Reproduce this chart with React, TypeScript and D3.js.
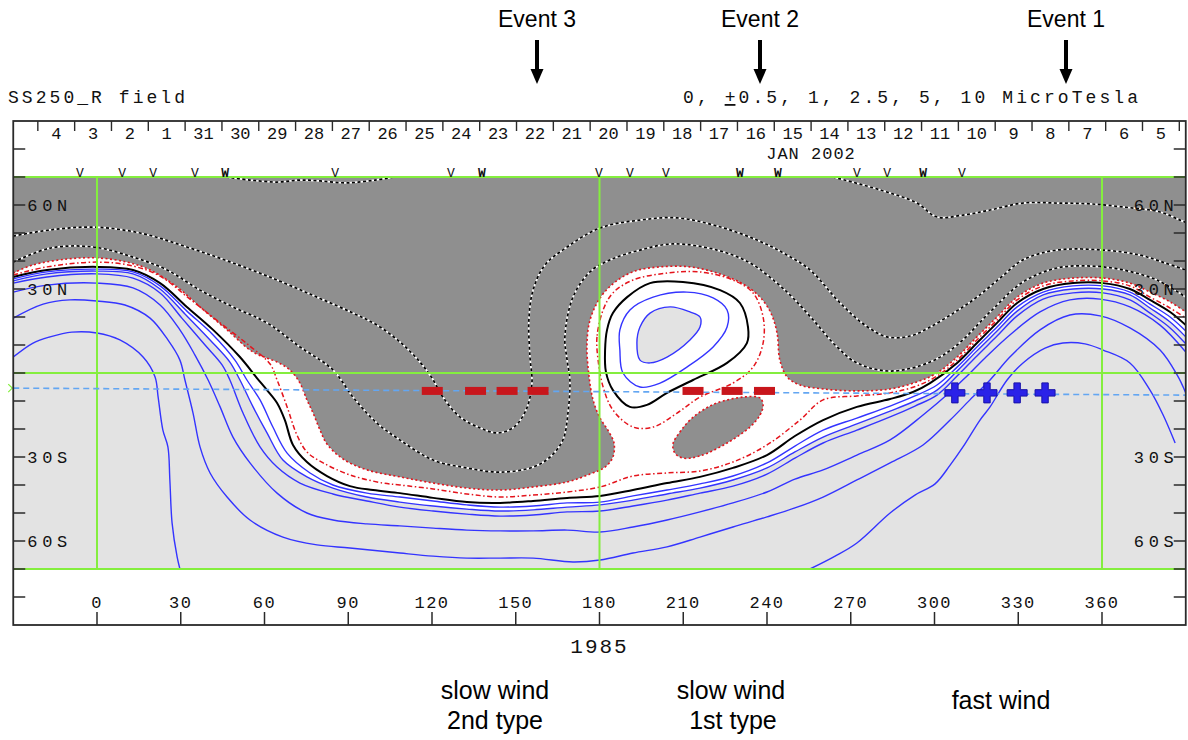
import React from "react";
import * as d3 from "d3";

type P = [number, number];

// ---------- data (Carrington lon, heliographic lat) ----------
const lonTicks = [0, 30, 60, 90, 120, 150, 180, 210, 240, 270, 300, 330, 360];
const latTicks = [-80, -70, -60, -50, -40, -30, -20, -10, 0, 10, 20, 30, 40, 50, 60, 70, 80];
const latLabelValues = [60, 30, -30, -60];
const latLabelText = ["60N", "30N", "30S", "60S"];
const gridLons = [0, 180, 360];
const gridLats = [70, 0, -70];

// dates: label at noon of Jan 5 2002 sits at lon 381.1, Feb 4 at lon -14.6
const dateStart = new Date(Date.UTC(2002, 0, 5, 12));
const dateEnd = new Date(Date.UTC(2002, 1, 4, 12));
const dateLonRange = [381.1, -14.6];

const markerLons = [-6.1, 9.0, 20.1, 35.1, 45.9, 85.3, 126.8, 137.9, 179.8, 190.9, 203.8, 230.3, 243.9, 272.2, 283.0, 295.9, 309.8];
const markerTypes = ["V", "V", "V", "V", "W", "V", "V", "W", "V", "V", "V", "W", "W", "V", "V", "W", "V"];

const earthLon = [-30, 390];
const earthLat = [-5.4, -7.9];

const slow2Lons = [120.1, 135.6, 146.9, 158.0];
const slow1Lons = [213.5, 227.5, 239.1];
const slowLat = -6.4;
const fastLons = [307.3, 318.8, 329.6, 339.6];
const fastLat = -7.1;

// negative contours (dotted black/white)
const D0: P[] = [[46.2, 70], [54.8, 68.9], [64.5, 68.2], [72.7, 68.9], [79.9, 68.6], [89.6, 67.9], [99.6, 68.9], [106.7, 70]];
const DT: P[] = [[263.6, 70], [280.5, 65.4], [293.7, 60.7], [300.9, 55.7], [310.2, 56.4], [319.9, 58.2], [331.7, 60.7], [343.9, 60.7], [355.7, 60.4], [367.5, 59.3], [380.8, 57.5], [388, 54.6], [392, 52.9]];
const D1: P[] = [[-30, 48.9], [-16.8, 51.1], [-1.4, 52.1], [15.4, 50.0], [32.2, 45.0], [48.7, 39.3], [64.5, 33.2], [78.8, 27.1], [91.7, 21.4], [100.3, 17.1], [108.5, 11.1], [115.7, 3.9], [120.0, -1.8], [123.9, -8.6], [130.0, -15.7], [137.2, -19.6], [143.3, -21.4], [149.0, -19.6], [153.7, -13.2], [155.8, -3.6], [155.1, 5.7], [154.7, 18.9], [156.2, 29.6], [160.5, 38.6], [168.4, 45.0], [180.2, 51.8], [194.5, 54.6], [207.8, 55.4], [222.1, 52.5], [236.4, 47.5], [246.5, 42.5], [255.4, 36.8], [266.2, 25.0], [275.1, 17.1], [283.0, 12.9], [291.2, 13.2], [298.4, 16.4], [307.4, 21.8], [315.2, 27.1], [323.5, 33.9], [331.7, 40.4], [343.9, 43.9], [360.4, 43.9], [373.6, 42.1], [382.6, 39.3], [390, 36.8]];
const D2: P[] = [[-30, 39.6], [-16.8, 44.6], [-1.4, 45.0], [12.9, 41.4], [25.1, 36.8], [36.9, 29.6], [48.7, 23.6], [60.9, 17.9], [72.7, 9.3], [84.5, 1.1], [91.7, -8.6], [100.3, -17.9], [108.5, -23.9], [120.4, -31.1], [132.5, -33.9], [144.4, -35.4], [156.2, -33.6], [162.3, -30.0], [166.9, -23.9], [168.7, -14.3], [169.4, -2.5], [168.4, 4.6], [167.6, 12.9], [170.5, 27.1], [176.6, 36.1], [183.8, 40.4], [194.5, 43.9], [206.3, 46.1], [222.1, 43.9], [233.9, 39.3], [243.6, 32.1], [250.0, 26.1], [257.2, 18.2], [264.4, 10.0], [272.2, 3.6], [284.1, 0.7], [298.4, 3.9], [308.1, 10.0], [319.9, 21.8], [331.7, 32.5], [343.9, 37.5], [355.7, 38.2], [367.5, 36.8], [379.7, 33.2], [390, 27.1]];

// -1 contour (outer red dotted, edge of the dark shading)
const R1: P[] = [[-30, 35.7], [-22.9, 38.6], [-10.7, 40.7], [0, 41.1], [10.7, 39.6], [19.0, 36.8], [28.7, 30.7], [36.9, 23.6], [46.6, 15.4], [55.9, 7.5], [64.5, 3.9], [69.1, 1.1], [72.7, -3.6], [75.2, -9.6], [77.4, -14.3], [79.9, -20.4], [82.4, -25.4], [88.1, -30.7], [96.7, -34.6], [108.5, -37.1], [120.4, -39.3], [132.5, -41.1], [144.4, -41.8], [156.2, -40.7], [168.4, -38.9], [176.6, -36.1], [182.0, -33.6], [184.8, -30.0], [185.2, -25.0], [183.0, -20.4], [180.2, -16.1], [177.7, -9.6], [176.2, -0.7], [175.5, 10.0], [176.6, 18.9], [180.2, 26.8], [185.6, 32.5], [192.7, 36.4], [201.7, 37.9], [212.4, 37.9], [222.1, 35.7], [231.4, 31.8], [237.5, 27.1], [241.4, 21.4], [243.6, 14.3], [244.6, 4.6], [247.2, -1.4], [251.8, -4.3], [260.1, -5.7], [272.2, -6.4], [284.1, -5.7], [293.7, -3.2], [300.9, 0], [308.1, 5.7], [315.2, 12.9], [322.4, 20.0], [329.6, 27.1], [338.9, 32.1], [349.6, 33.9], [360.4, 33.9], [370.0, 32.1], [377.2, 28.9], [384.4, 25.4], [390, 21.8]];
const HOLE: P[] = [[206.3, -25.4], [208.8, -21.1], [212.4, -16.8], [217.1, -13.2], [222.1, -10.7], [231.4, -8.6], [237.5, -8.9], [238.6, -11.4], [237.5, -15.0], [233.9, -19.3], [225.7, -25.0], [216.0, -29.6], [209.9, -30.4], [207.0, -28.6]];

// -0.5 contour (red dash-dot)
const R2: P[] = [[-30, 35.0], [-17.9, 37.9], [0, 39.6], [12.9, 38.2], [22.6, 34.6], [33.3, 26.4], [44.1, 17.9], [54.8, 9.6], [62.0, 3.2], [64.5, -2.5], [68.1, -12.1], [71.6, -22.1], [75.2, -28.2], [81.0, -32.1], [90.6, -36.4], [102.4, -39.3], [108.5, -40.0], [120.4, -41.4], [132.5, -43.2], [144.4, -44.3], [156.2, -43.6], [168.4, -42.5], [180.2, -40.7], [192.0, -36.8], [204.2, -35.7], [216.0, -35.0], [227.8, -31.8], [240.0, -25.7], [251.8, -16.8], [260.1, -9.6], [272.2, -8.2], [284.1, -7.1], [293.7, -4.6], [300.9, -1.1], [308.1, 4.6], [315.2, 11.8], [322.4, 18.9], [329.6, 26.1], [338.9, 31.1], [349.6, 32.9], [360.4, 32.9], [370.0, 31.1], [377.2, 27.1], [384.4, 23.2], [390, 19.6]];
const R2blob: P[] = [[181.3, 22.5], [179.1, 12.9], [179.5, 4.6], [181.3, -5.0], [184.8, -13.2], [192.0, -19.3], [199.2, -19.3], [207.8, -14.3], [216.0, -8.6], [227.8, -3.6], [235.0, 2.1], [238.6, 10.7], [238.6, 20.0], [235.0, 28.6], [227.8, 33.2], [216.0, 36.1], [204.2, 35.7], [192.0, 33.2], [184.8, 28.6]];

// 0 contour (neutral line, black)
const K: P[] = [[-30, 34.3], [-17.9, 36.8], [0, 37.9], [12.9, 36.8], [22.6, 32.1], [32.2, 23.6], [41.6, 15.4], [51.2, 5.7], [57.3, -1.8], [60.9, -6.1], [64.5, -10.7], [67.3, -16.8], [70.2, -25.7], [75.2, -31.8], [82.4, -36.8], [90.6, -40.4], [98.9, -41.8], [108.5, -42.9], [120.4, -44.6], [132.5, -46.1], [144.4, -46.4], [156.2, -45.7], [168.4, -44.6], [180.2, -43.9], [192.0, -41.8], [204.2, -39.3], [216.0, -37.1], [227.8, -33.9], [240.0, -29.3], [250.0, -22.5], [260.1, -16.8], [272.2, -12.1], [284.1, -9.3], [292.3, -6.8], [298.4, -3.6], [308.1, 3.6], [315.2, 10.7], [322.4, 17.9], [329.6, 25.0], [338.9, 30.0], [349.6, 32.1], [360.4, 32.1], [370.0, 30.0], [377.2, 26.1], [384.4, 21.8], [390, 17.1]];
const Kblob: P[] = [[182.7, 15.4], [182.0, 8.2], [182.3, 0.4], [184.8, -6.1], [190.9, -12.1], [197.0, -11.4], [204.2, -7.1], [213.5, -2.5], [225.7, 3.6], [232.8, 10.7], [233.2, 16.4], [230.3, 25.0], [223.2, 29.6], [209.9, 32.5], [198.1, 32.1], [189.9, 27.1], [184.8, 21.4]];

// positive contours (blue)
const B1: P[] = [[-30, 33.6], [-17.9, 36.1], [0, 37.1], [12.9, 36.1], [22.6, 31.1], [32.2, 22.1], [41.6, 13.6], [49.4, 4.6], [53.7, -2.5], [58.4, -9.6], [63.0, -19.3], [68.1, -28.6], [76.3, -35.7], [84.5, -40.0], [96.7, -42.9], [108.5, -44.3], [120.4, -45.7], [132.5, -47.1], [144.4, -47.9], [156.2, -47.5], [168.4, -46.4], [180.2, -46.1], [192.0, -43.9], [204.2, -41.8], [216.0, -39.6], [227.8, -36.8], [240.0, -32.1], [250.0, -26.1], [260.1, -20.4], [272.2, -16.1], [284.1, -11.8], [293.0, -8.2], [300.9, -4.3], [308.1, 2.1], [315.2, 9.3], [322.4, 16.4], [329.6, 23.6], [338.9, 28.9], [349.6, 31.1], [360.4, 31.1], [370.0, 28.9], [377.2, 24.6], [384.4, 20.0], [390, 15.0]];
const B2: P[] = [[-30, 32.9], [-17.9, 35.4], [0, 36.4], [12.9, 35.4], [22.6, 30.0], [31.5, 21.1], [40.5, 11.8], [47.6, 3.9], [51.2, -2.5], [55.9, -12.1], [60.9, -21.4], [66.6, -31.1], [75.2, -37.1], [84.5, -41.1], [96.7, -44.3], [108.5, -46.1], [120.4, -47.5], [132.5, -48.6], [144.4, -49.3], [156.2, -48.9], [168.4, -47.9], [180.2, -47.1], [192.0, -45.4], [204.2, -43.2], [216.0, -41.1], [227.8, -38.2], [240.0, -33.9], [250.0, -28.2], [260.1, -22.9], [272.2, -18.2], [284.1, -13.6], [293.0, -10.0], [300.9, -6.1], [308.1, 0.7], [315.2, 7.9], [322.4, 15.0], [329.6, 22.1], [338.9, 27.9], [349.6, 30.0], [360.4, 30.0], [370.0, 27.9], [377.2, 23.2], [384.4, 18.2], [390, 12.9]];
const B3: P[] = [[-30, 32.1], [-17.9, 34.3], [0, 35.4], [12.9, 33.9], [22.6, 28.6], [30.4, 19.6], [38.7, 10.0], [44.8, 2.9], [47.6, -2.5], [52.3, -14.3], [58.4, -26.4], [64.5, -33.6], [72.7, -39.3], [84.5, -43.2], [96.7, -45.7], [108.5, -47.9], [120.4, -49.3], [132.5, -50.4], [144.4, -51.1], [156.2, -50.7], [168.4, -49.6], [180.2, -49.3], [192.0, -47.5], [204.2, -45.4], [216.0, -42.9], [227.8, -40.4], [240.0, -36.1], [250.0, -30.4], [260.1, -25.0], [272.2, -20.4], [284.1, -15.7], [293.0, -11.8], [300.9, -7.9], [308.1, -1.1], [315.2, 6.1], [322.4, 13.2], [329.6, 20.4], [338.9, 26.4], [349.6, 28.6], [360.4, 28.6], [370.0, 26.1], [377.2, 21.4], [384.4, 16.1], [390, 10.4]];
const B4: P[] = [[-30, 28.9], [-17.9, 31.4], [0, 32.1], [12.9, 30.4], [22.6, 24.3], [29.7, 15.4], [35.1, 6.4], [39.8, -2.5], [44.1, -12.1], [48.7, -22.9], [54.8, -32.1], [64.5, -42.9], [75.2, -50.0], [84.5, -52.5], [96.7, -53.9], [108.5, -54.6], [120.4, -55.4], [132.5, -56.1], [144.4, -56.4], [156.2, -56.4], [168.4, -56.1], [180.2, -56.8], [192.0, -55.0], [204.2, -52.5], [216.0, -49.6], [227.8, -46.4], [240.0, -42.5], [250.0, -37.9], [260.1, -34.6], [272.2, -29.3], [284.1, -23.9], [295.9, -15.0], [305.6, -6.8], [310.9, -1.8], [318.1, 5.4], [327.0, 13.6], [337.8, 21.8], [348.5, 26.1], [359.3, 26.4], [370.0, 23.6], [380.8, 17.1], [390, 7.5]];
const B5: P[] = [[-30, 19.6], [-19.3, 24.6], [-9.7, 26.1], [0, 25.7], [10.0, 24.3], [19.0, 19.6], [25.4, 11.8], [29.7, 4.6], [31.5, -2.5], [34.4, -14.3], [36.9, -26.4], [40.5, -35.7], [46.6, -44.3], [54.8, -52.5], [66.6, -58.6], [78.8, -61.4], [90.6, -62.5], [108.5, -64.3], [120.4, -65.4], [132.5, -66.1], [144.4, -66.1], [156.2, -66.1], [170.5, -67.5], [180.2, -66.8], [192.0, -64.3], [204.2, -62.1], [216.0, -58.6], [227.8, -55.0], [240.0, -51.4], [250.0, -48.2], [260.1, -44.3], [272.2, -38.2], [284.1, -32.1], [295.9, -25.7], [305.6, -16.8], [312.7, -9.6], [319.9, -2.5], [327.0, 5.7], [337.8, 15.4], [348.5, 20.7], [359.3, 20.4], [370.0, 16.1], [380.8, 8.2], [386.9, -0.7], [390, -7.1]];
const B6west: P[] = [[-30, 5.7], [-22.9, 10.7], [-16.8, 12.9], [-9.0, 14.6], [0, 14.3], [8.2, 11.8], [16.5, 5.7], [20.8, -1.4], [21.9, -8.6], [23.6, -20.4], [25.4, -26.4], [26.1, -38.2], [26.9, -53.6], [28.7, -65.7], [29.7, -70]];
const B6east: P[] = [[255.4, -70], [264.4, -65.4], [272.2, -60.7], [284.1, -50.0], [293.0, -43.6], [300.2, -39.6], [305.6, -32.9], [310.2, -26.4], [316.3, -16.8], [319.9, -12.1], [326.0, -2.5], [331.7, 3.6], [339.6, 8.9], [346.0, 10.7], [353.9, 10.4], [360.4, 8.2], [370.0, 3.6], [377.2, -6.1], [381.9, -15.0], [386.2, -25.0]];
const B1blob: P[] = [[187.3, 8.2], [188.4, 0], [194.5, -5.0], [201.7, -3.6], [211.3, 2.1], [220.7, 9.3], [225.7, 16.4], [225.7, 22.5], [220.7, 26.8], [211.3, 28.9], [199.2, 27.1], [190.9, 22.5], [187.3, 15.4]];
const B2blob: P[] = [[193.4, 10.7], [194.5, 4.6], [198.1, 3.6], [204.2, 5.7], [212.4, 11.8], [216.0, 16.4], [216.0, 20.0], [212.4, 21.8], [205.3, 23.6], [198.1, 21.4], [194.5, 16.4]];

// ---------- scales ----------
const x = d3.scaleLinear().domain([0, 360]).range([97, 1102]);
const y = d3.scaleLinear().domain([70, -70]).range([177, 569]);
const dateToLon = d3.scaleUtc().domain([dateStart, dateEnd]).range(dateLonRange);

const open = d3.line<P>().x((d) => x(d[0])).y((d) => y(d[1])).curve(d3.curveCatmullRom.alpha(0.5));
const closed = d3.line<P>().x((d) => x(d[0])).y((d) => y(d[1])).curve(d3.curveCatmullRomClosed.alpha(0.5));

const LON0 = -30, LON1 = 390;

const GRAY = "#8f8f8f";
const LIGHT = "#e3e3e3";
const BLUE = "#3434ff";
const RED = "#e4141c";
const GREEN = "#84ee3e";
const MONO = "'Liberation Mono', 'DejaVu Sans Mono', monospace";
const SANS = "'Liberation Sans', Arial, sans-serif";

function fillBelow(pts: P[]) {
  return `${open(pts)}L${x(LON1)},${y(-70)}L${x(LON0)},${y(-70)}Z`;
}

function Dotted({ d }: { d: string }) {
  return (
    <g fill="none">
      <path d={d} stroke="#ffffff" strokeWidth={1.7} />
      <path d={d} stroke="#000000" strokeWidth={1.7} strokeDasharray="3 2.5" />
    </g>
  );
}

export default function App() {
  const left = x(LON0);
  const right = x(LON1);
  const top = y(90);
  const bottom = y(-90);

  const dayNoons = d3.utcHour.range(dateStart, d3.utcHour.offset(dateEnd, 1), 24);
  const dayBounds = d3.utcDay.range(d3.utcDay.floor(dateStart), d3.utcDay.offset(d3.utcDay.floor(dateEnd), 2));
  const fmtDay = d3.utcFormat("%-d");

  const blue = [B1, B2, B3, B4, B5];

  const events = [
    { label: "Event 3", x: 537 },
    { label: "Event 2", x: 760 },
    { label: "Event 1", x: 1066 },
  ];

  const ex0 = x(earthLon[0]), ex1 = x(earthLon[1]);
  const ey0 = y(earthLat[0]), ey1 = y(earthLat[1]);

  return (
    <svg width={1188} height={740} viewBox="0 0 1188 740" style={{ position: "absolute", left: 0, top: 0, background: "#fff" }}>
      <defs>
        <clipPath id="mapClip">
          <rect x={left} y={y(70)} width={right - left} height={y(-70) - y(70)} />
        </clipPath>
      </defs>
      <rect x={0} y={0} width={1188} height={740} fill="#fff" />

      {/* Event labels and arrows */}
      {events.map((e) => (
        <g key={e.label}>
          <text x={e.x} y={27} textAnchor="middle" fontFamily={SANS} fontSize={23} fill="#000">{e.label}</text>
          <rect x={e.x - 2} y={40} width={4} height={31} fill="#000" />
          <path d={`M${e.x - 6.5},69L${e.x + 6.5},69L${e.x},84Z`} fill="#000" />
        </g>
      ))}

      {/* titles */}
      <text x={8} y={103} fontFamily={MONO} fontSize={18} textLength={177} lengthAdjust="spacing" fill="#111">SS250_R field</text>
      <text x={683} y={103} fontFamily={MONO} fontSize={18} textLength={455} lengthAdjust="spacing" fill="#111">
        0, <tspan style={{ textDecoration: "underline" }}>+</tspan>0.5, 1, 2.5, 5, 10 MicroTesla
      </text>

      {/* map */}
      <g clipPath="url(#mapClip)">
        <rect x={left} y={y(70)} width={right - left} height={y(-70) - y(70)} fill={GRAY} />
        <path d={fillBelow(R1)} fill="#ffffff" />
        <path d={closed(HOLE) || ""} fill={GRAY} />
        <path d={fillBelow(B2)} fill={LIGHT} />
        <path d={closed(B2blob) || ""} fill={LIGHT} />

        {/* negative contours */}
        <Dotted d={open(D0) || ""} />
        <Dotted d={open(DT) || ""} />
        <Dotted d={open(D1) || ""} />
        <Dotted d={open(D2) || ""} />

        {/* -1 contours */}
        <path d={open(R1) || ""} fill="none" stroke={RED} strokeWidth={1.6} strokeDasharray="2 2.5" />
        <path d={closed(HOLE) || ""} fill="none" stroke={RED} strokeWidth={1.6} strokeDasharray="2 2.5" />
        {/* -0.5 contours */}
        <path d={open(R2) || ""} fill="none" stroke={RED} strokeWidth={1.5} strokeDasharray="5 2.5 1.5 2.5" />
        <path d={closed(R2blob) || ""} fill="none" stroke={RED} strokeWidth={1.5} strokeDasharray="5 2.5 1.5 2.5" />
        {/* neutral line */}
        <path d={open(K) || ""} fill="none" stroke="#000" strokeWidth={2} />
        <path d={closed(Kblob) || ""} fill="none" stroke="#000" strokeWidth={2} />
        {/* positive */}
        {blue.map((b, i) => (
          <path key={i} d={open(b) || ""} fill="none" stroke={BLUE} strokeWidth={1.4} />
        ))}
        <path d={open(B6west) || ""} fill="none" stroke={BLUE} strokeWidth={1.4} />
        <path d={open(B6east) || ""} fill="none" stroke={BLUE} strokeWidth={1.4} />
        <path d={closed(B1blob) || ""} fill="none" stroke={BLUE} strokeWidth={1.4} />
        <path d={closed(B2blob) || ""} fill="none" stroke={BLUE} strokeWidth={1.4} />

        {/* grid */}
        {gridLons.map((g) => (
          <line key={"gx" + g} x1={x(g)} x2={x(g)} y1={y(70)} y2={y(-70)} stroke={GREEN} strokeWidth={2} />
        ))}
        {/* Earth path */}
        <line x1={ex0} y1={ey0} x2={ex1} y2={ey1} stroke="#63a6f2" strokeWidth={1.6} strokeDasharray="6 4" />
      </g>
      {gridLats.map((g) => (
        <line key={"gy" + g} x1={left} x2={right} y1={y(g)} y2={y(g)} stroke={GREEN} strokeWidth={2} />
      ))}
      <path d={`M${left - 5},${ey0 - 4}L${left - 1},${ey0}L${left - 5},${ey0 + 4}`} fill="none" stroke={GREEN} strokeWidth={1.2} />

      {/* solar wind markers */}
      {slow2Lons.concat(slow1Lons).map((l, i) => (
        <rect key={"s" + i} x={x(l) - 10.5} y={y(slowLat) - 4} width={21} height={8} fill="#c8161c" />
      ))}
      {fastLons.map((l, i) => {
        const cx = x(l), cy = y(fastLat);
        const a = 10, t = 3.2;
        const d = `M${cx - t},${cy - a}H${cx + t}V${cy - t}H${cx + a}V${cy + t}H${cx + t}V${cy + a}H${cx - t}V${cy + t}H${cx - a}V${cy - t}H${cx - t}Z`;
        return <path key={"f" + i} d={d} fill="#2a22e8" stroke="#1812a8" strokeWidth={1} />;
      })}

      {/* frame */}
      <rect x={left} y={top} width={right - left} height={bottom - top} fill="none" stroke="#2a2a2a" strokeWidth={1.8} />

      {/* latitude ticks */}
      {latTicks.map((t) => (
        <g key={"lt" + t}>
          <line x1={left} x2={left + 12} y1={y(t)} y2={y(t)} stroke="#2a2a2a" strokeWidth={1.5} />
          <line x1={right} x2={right - 12} y1={y(t)} y2={y(t)} stroke="#2a2a2a" strokeWidth={1.5} />
        </g>
      ))}
      {latLabelValues.map((v, i) => (
        <g key={"ll" + v}>
          <text x={left + 14} y={y(v) + 6} fontFamily={MONO} fontSize={17} textLength={40} lengthAdjust="spacing" fill="#111">{latLabelText[i]}</text>
          <text x={right - 52} y={y(v) + 6} fontFamily={MONO} fontSize={17} textLength={40} lengthAdjust="spacing" fill="#111">{latLabelText[i]}</text>
        </g>
      ))}

      {/* longitude axis */}
      {lonTicks.map((t) => (
        <g key={"lo" + t}>
          <line x1={x(t)} x2={x(t)} y1={bottom} y2={bottom - 13} stroke="#2a2a2a" strokeWidth={1.5} />
          <text x={x(t)} y={608} textAnchor="middle" fontFamily={MONO} fontSize={17} letterSpacing={1.5} fill="#111">{t}</text>
        </g>
      ))}
      <text x={x(180)} y={653} textAnchor="middle" fontFamily={MONO} fontSize={21} letterSpacing={2} fill="#111">1985</text>

      {/* date axis */}
      {dayBounds.map((d, i) => {
        const lx = x(dateToLon(d));
        if (lx < left + 2 || lx > right + 1) return null;
        return <line key={"db" + i} x1={lx} x2={lx} y1={top} y2={top + 10} stroke="#2a2a2a" strokeWidth={1.4} />;
      })}
      {dayNoons.map((d, i) => (
        <text key={"dn" + i} x={x(dateToLon(d))} y={139} textAnchor="middle" fontFamily={MONO} fontSize={17} fill="#111">{fmtDay(d)}</text>
      ))}
      <text x={811} y={159} textAnchor="middle" fontFamily={MONO} fontSize={17} letterSpacing={1} fill="#111">JAN 2002</text>

      {markerLons.map((l, i) => (
        <text key={"m" + i} x={x(l)} y={177} textAnchor="middle" fontFamily={MONO} fontSize={13} fontWeight={markerTypes[i] === "W" ? "bold" : "normal"} fill="#111">{markerTypes[i]}</text>
      ))}

      {/* wind type annotations */}
      <g fontFamily={SANS} fontSize={25} fill="#000" textAnchor="middle">
        <text x={495} y={699}>slow wind</text>
        <text x={495} y={729}>2nd type</text>
        <text x={731} y={699}>slow wind</text>
        <text x={733} y={729}>1st type</text>
        <text x={1001} y={709}>fast wind</text>
      </g>
    </svg>
  );
}
